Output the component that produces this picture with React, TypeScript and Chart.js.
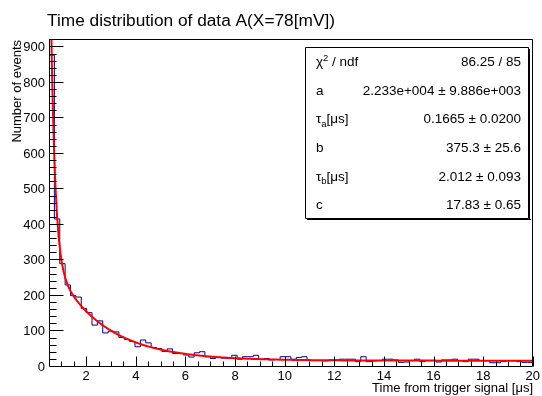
import React, { useEffect, useRef } from 'react';
import { Chart, registerables } from 'chart.js';

Chart.register(...registerables);

const FONT = '"Liberation Sans", Arial, Helvetica, sans-serif';

const chartTitle = 'Time distribution of data A(X=78[mV])';
const xTitle = 'Time from trigger signal [μs]';
const yTitle = 'Number of events';

// histogram binning (90 bins from 0.5 to 20 µs)
const xMin = 0.5;
const xMax = 20;
const nBins = 90;
const yMax = 921;

// bin contents
const counts = [
  878, 417, 291, 231, 201, 197, 165, 153, 118, 130,
  96, 101, 99, 83, 78, 72, 57, 76, 68, 55,
  52, 44, 51, 38, 38, 34, 28, 40, 43, 29,
  24, 27, 25, 24, 33, 22, 29, 29, 33, 22,
  24, 20, 21, 29, 29, 22, 27, 29, 18, 18,
  18, 17, 20, 20, 22, 22, 22, 15, 29, 15,
  17, 18, 22, 22, 20, 13, 14, 18, 22, 15,
  18, 18, 14, 20, 20, 22, 18, 15, 22, 22,
  18, 18, 12, 12, 15, 18, 18, 15, 13, 13,
];

const xTicks = [2, 4, 6, 8, 10, 12, 14, 16, 18, 20];
const yTicks = [0, 100, 200, 300, 400, 500, 600, 700, 800, 900];

// fit parameters (double exponential + constant)
const fitA = 22330;
const fitTauA = 0.1665;
const fitB = 375.3;
const fitTauB = 2.012;
const fitC = 17.83;

const statsLabels = ['χ^{2} / ndf', 'a', 'τ_{a}[μs]', 'b', 'τ_{b}[μs]', 'c'];
const statsValues = [
  '86.25 / 85',
  '2.233e+004 ± 9.886e+003',
  '0.1665 ± 0.0200',
  '375.3 ± 25.6',
  '2.012 ± 0.093',
  '17.83 ± 0.65',
];

function fitFn(t: number) {
  return fitA * Math.exp(-t / fitTauA) + fitB * Math.exp(-t / fitTauB) + fitC;
}

type Seg = { t: string; kind: 'n' | 'sup' | 'sub' };
function parseRich(s: string): Seg[] {
  const out: Seg[] = [];
  const re = /(\^|_)\{([^}]*)\}/g;
  let last = 0;
  let m: RegExpExecArray | null;
  while ((m = re.exec(s))) {
    if (m.index > last) out.push({ t: s.slice(last, m.index), kind: 'n' });
    out.push({ t: m[2], kind: m[1] === '^' ? 'sup' : 'sub' });
    last = re.lastIndex;
  }
  if (last < s.length) out.push({ t: s.slice(last), kind: 'n' });
  return out;
}

function drawRich(ctx: CanvasRenderingContext2D, s: string, x: number, y: number, align: 'left' | 'right', size: number) {
  const segs = parseRich(s);
  const small = size * 0.7;
  ctx.textAlign = 'left';
  ctx.textBaseline = 'alphabetic';
  const widths = segs.map((g) => {
    ctx.font = `${g.kind === 'n' ? size : small}px ${FONT}`;
    return ctx.measureText(g.t).width;
  });
  const total = widths.reduce((p, c) => p + c, 0);
  let cx = align === 'right' ? x - total : x;
  segs.forEach((g, i) => {
    ctx.font = `${g.kind === 'n' ? size : small}px ${FONT}`;
    const dy = g.kind === 'sup' ? -size * 0.4 : g.kind === 'sub' ? size * 0.25 : 0;
    ctx.fillText(g.t, cx, y + dy);
    cx += widths[i];
  });
}

const decor = {
  id: 'rootDecor',
  afterDraw(chart: any) {
    const { ctx, chartArea: a, scales } = chart;
    const xs = scales.x;
    const ys = scales.y;
    const L = Math.round(a.left) + 0.5;
    const R = Math.round(a.right) - 0.5;
    const T = Math.round(a.top) - 0.5;
    const B = Math.round(a.bottom) - 0.5;
    ctx.save();
    ctx.strokeStyle = '#000';
    ctx.fillStyle = '#000';
    ctx.lineWidth = 1;

    // frame
    ctx.beginPath();
    ctx.rect(L, T, R - L, B - T);
    ctx.stroke();

    // y ticks (inside)
    ctx.beginPath();
    for (let v = 20; v < yMax; v += 20) {
      const py = Math.round(ys.getPixelForValue(v)) - 0.5;
      const len = v % 100 === 0 ? 14 : 7;
      ctx.moveTo(L, py);
      ctx.lineTo(L + len, py);
    }
    // x ticks (inside)
    for (let v = 1; v <= xMax + 1e-9; v += 0.5) {
      const px = Math.round(xs.getPixelForValue(v)) + 0.5;
      const len = Math.abs(v % 2) < 1e-9 ? 10 : 5;
      ctx.moveTo(px, B);
      ctx.lineTo(px, B - len);
    }
    ctx.stroke();

    // title
    ctx.font = `17.3px ${FONT}`;
    ctx.textAlign = 'left';
    ctx.textBaseline = 'alphabetic';
    ctx.fillText(chartTitle, 47, 26);

    // x title
    ctx.font = `13px ${FONT}`;
    ctx.textAlign = 'right';
    ctx.fillText(xTitle, Math.round(a.right), 392);

    // y title
    ctx.save();
    ctx.translate(21, Math.round(a.top));
    ctx.rotate(-Math.PI / 2);
    ctx.textAlign = 'right';
    ctx.fillText(yTitle, 0, 0);
    ctx.restore();

    // stats box
    const bx1 = 305, by1 = 47, bx2 = 529, by2 = 219;
    ctx.fillStyle = '#fff';
    ctx.fillRect(bx1, by1, bx2 - bx1, by2 - by1);
    ctx.strokeStyle = '#000';
    ctx.beginPath();
    ctx.rect(bx1 + 0.5, by1 + 0.5, bx2 - bx1 - 1, by2 - by1 - 1);
    ctx.stroke();
    ctx.fillStyle = '#000';
    ctx.fillRect(bx1 + 2, by2, bx2 - bx1, 1);
    ctx.fillRect(bx2, by1 + 2, 1, by2 - by1 - 1);
    const rowH = (by2 - by1) / statsLabels.length;
    statsLabels.forEach((lab, i) => {
      const cy = by1 + (i + 0.5) * rowH + 4.8;
      drawRich(ctx, lab, 316, cy, 'left', 13.5);
      drawRich(ctx, statsValues[i], 521, cy, 'right', 13.5);
    });
    ctx.restore();
  },
};

export default function App() {
  const ref = useRef<HTMLCanvasElement>(null);
  useEffect(() => {
    const canvas = ref.current;
    if (!canvas) return;
    const w = (xMax - xMin) / nBins;
    const histData = counts.map((c, i) => ({ x: xMin + i * w, y: c }));
    histData.push({ x: xMax, y: counts[counts.length - 1] });
    const fitData: { x: number; y: number }[] = [];
    const nFit = 300;
    for (let i = 0; i <= nFit; i++) {
      const t = xMin + ((xMax - xMin) * i) / nFit;
      fitData.push({ x: t, y: fitFn(t) });
    }
    const tickFont = { family: FONT, size: 13 };
    const chart = new Chart(canvas, {
      type: 'line',
      data: {
        datasets: [
          {
            label: 'fit',
            data: fitData,
            borderColor: '#ff0000',
            borderWidth: 2,
            pointRadius: 0,
            tension: 0,
            clip: 0,
            order: 0,
          } as any,
          {
            label: 'data',
            data: histData,
            borderColor: '#000099',
            borderWidth: 1,
            pointRadius: 0,
            stepped: 'before',
            clip: 0,
            order: 1,
          } as any,
        ],
      },
      options: {
        responsive: false,
        devicePixelRatio: 1,
        animation: false,
        parsing: false,
        layout: { padding: { left: 0, right: 9, top: 40, bottom: 0 } },
        plugins: { legend: { display: false }, tooltip: { enabled: false }, title: { display: false } },
        scales: {
          x: {
            type: 'linear',
            min: xMin,
            max: xMax,
            grid: { display: false, drawTicks: false },
            border: { display: false },
            ticks: { font: tickFont, color: '#000', padding: 2, maxRotation: 0, autoSkip: false },
            afterBuildTicks: (s: any) => {
              s.ticks = xTicks.map((v) => ({ value: v }));
            },
            afterFit: (s: any) => {
              s.height = 29;
            },
          },
          y: {
            type: 'linear',
            min: 0,
            max: yMax,
            grid: { display: false, drawTicks: false },
            border: { display: false },
            ticks: { font: tickFont, color: '#000', padding: 4, autoSkip: false },
            afterBuildTicks: (s: any) => {
              s.ticks = yTicks.map((v) => ({ value: v }));
            },
            afterFit: (s: any) => {
              s.width = 49;
            },
          },
        },
      } as any,
      plugins: [decor],
    });
    return () => chart.destroy();
  }, []);
  return (
    <div style={{ position: 'fixed', left: 0, top: 0, width: 542, height: 396, background: '#fff' }}>
      <canvas ref={ref} width={542} height={396} style={{ display: 'block', width: 542, height: 396 }} />
    </div>
  );
}
